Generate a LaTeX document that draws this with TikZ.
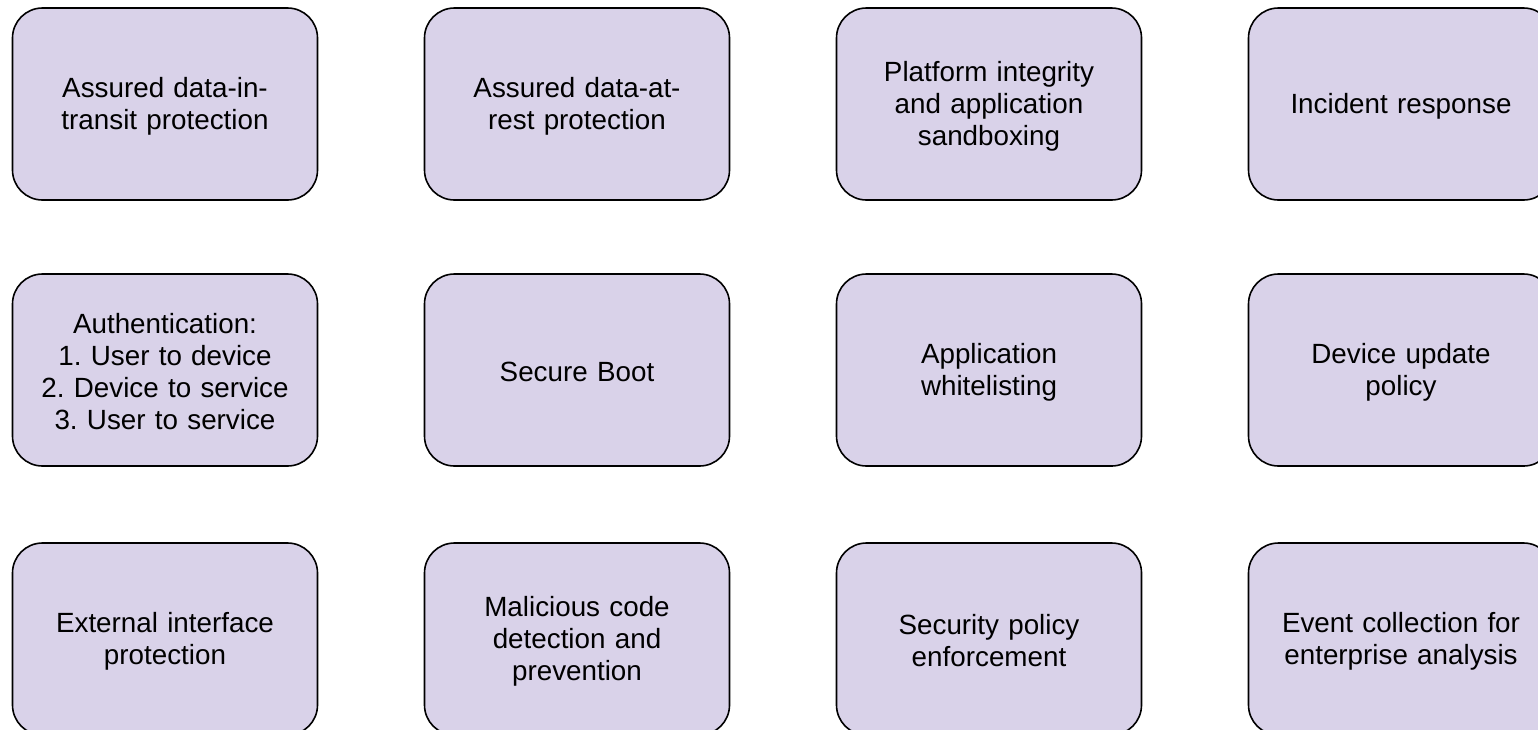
\documentclass[tikz,border=0pt]{standalone}
\usepackage{fontspec}
\setmainfont{Liberation Sans}
\frenchspacing
\definecolor{boxfill}{HTML}{D9D2E9}
\begin{document}
\begin{tikzpicture}[x=1pt,y=-1pt,
  capbox/.style={draw=black, line width=1.6pt, fill=boxfill, rounded corners=30pt,
    minimum width=305pt, minimum height=192pt, inner sep=0pt},
  captext/.style={inner sep=0pt, align=center, text width=300pt,
    font=\fontsize{27.8pt}{32pt}\selectfont}]
\useasboundingbox (0,0) rectangle (1538,729);
\begin{scope}
\clip (0,0) rectangle (1538,729);
% row 1
\node[capbox] (transit)  at (165,104)  {};
\node[capbox] (rest)     at (577,104)  {};
\node[capbox] (platform) at (989,104)  {};
\node[capbox] (incident) at (1401,104) {};
% row 2
\node[capbox] (auth)     at (165,370)  {};
\node[capbox] (boot)     at (577,370)  {};
\node[capbox] (white)    at (989,370)  {};
\node[capbox] (update)   at (1401,370) {};
% row 3
\node[capbox] (external) at (165,639)  {};
\node[capbox] (malware)  at (577,639)  {};
\node[capbox] (policy)   at (989,639)  {};
\node[capbox] (events)   at (1401,639) {};
\end{scope}
% captions, set slightly below each box centre
\node[captext] (transitT)  at ([yshift=-2pt]transit.center)  {Assured data-in-\\transit protection};
\node[captext] (restT)     at ([yshift=-2pt]rest.center)     {Assured data-at-\\rest protection};
\node[captext] (platformT) at ([yshift=-2pt]platform.center) {Platform integrity\\and application\\sandboxing};
\node[captext] (incidentT) at ([yshift=-2pt]incident.center) {Incident response};
\node[captext] (authT)     at ([yshift=-2pt]auth.center)     {Authentication:\\1. User to device\\2. Device to service\\3. User to service};
\node[captext] (bootT)     at ([yshift=-2pt]boot.center)     {Secure Boot};
\node[captext] (whiteT)    at ([yshift=-2pt]white.center)    {Application\\whitelisting};
\node[captext] (updateT)   at ([yshift=-2pt]update.center)   {Device update\\policy};
\node[captext] (externalT) at ([yshift=-2pt]external.center) {External interface\\protection};
\node[captext] (malwareT)  at ([yshift=-2pt]malware.center)  {Malicious code\\detection and\\prevention};
\node[captext] (policyT)   at ([yshift=-2pt]policy.center)   {Security policy\\enforcement};
\node[captext] (eventsT)   at ([yshift=-2pt]events.center)   {Event collection for\\enterprise analysis};
\end{tikzpicture}
\end{document}
